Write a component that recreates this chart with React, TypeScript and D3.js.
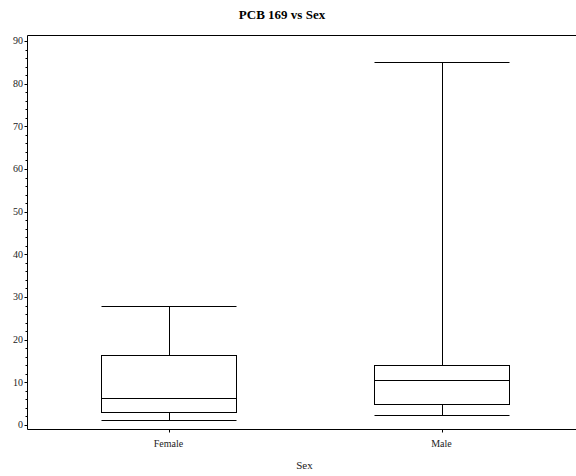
import React from "react";
import * as d3 from "d3";

const categories = ["Female", "Male"];
const whiskerLow = [1.1, 2.3];
const q1 = [3.0, 5.0];
const median = [6.4, 10.5];
const q3 = [16.4, 14.1];
const whiskerHigh = [27.9, 85.1];
const yTicks = [0, 10, 20, 30, 40, 50, 60, 70, 80, 90];
const title = "PCB 169 vs Sex";
const xLabel = "Sex";

const W = 576, H = 476;
const m = { left: 27, right: 0, top: 35, bottom: 47 };

export default function App() {
  const x = d3.scaleBand<string>().domain(categories).range([32, 578]).paddingInner(0).paddingOuter(0);
  const y = d3.scaleLinear().domain([-0.94, 91.4]).range([H - m.bottom, m.top]);
  const minor = d3.range(0, 92, 2).filter((v) => v % 10 !== 0);
  const bw = x.bandwidth() * 0.496;
  const font = "'Liberation Serif', 'Times New Roman', serif";
  const px = (v: number) => Math.round(v) + 0.5;
  const bottomY = px(H - m.bottom);
  return (
    <svg width={W} height={H} style={{ position: "absolute", left: 0, top: 0, background: "#fff" }}>
      <text x={282} y={19} textAnchor="middle" fontFamily={font} fontWeight="bold" fontSize={13}>{title}</text>
      <line x1={px(m.left)} x2={W} y1={px(m.top)} y2={px(m.top)} stroke="#000" />
      <line x1={px(m.left)} x2={W} y1={bottomY} y2={bottomY} stroke="#000" />
      <line x1={px(m.left)} x2={px(m.left)} y1={px(m.top)} y2={bottomY} stroke="#000" />
      {yTicks.map((t) => (
        <g key={t}>
          <line x1={px(m.left) - 3} x2={px(m.left)} y1={px(y(t))} y2={px(y(t))} stroke="#000" />
          <text x={m.left - 4} y={y(t) + 3.5} textAnchor="end" fontFamily={font} fontSize={10} fill="#222">{t}</text>
        </g>
      ))}
      {minor.map((t) => (
        <line key={"m" + t} x1={px(m.left) - 2} x2={px(m.left)} y1={px(y(t))} y2={px(y(t))} stroke="#000" />
      ))}
      {categories.map((c, i) => {
        const cx = x(c)! + x.bandwidth() / 2;
        const l = cx - bw / 2, r = cx + bw / 2;
        return (
          <g key={c} stroke="#000" fill="none">
            <line x1={px(cx)} x2={px(cx)} y1={bottomY} y2={bottomY + 3} />
            <text x={cx} y={447} textAnchor="middle" fontFamily={font} fontSize={10} fill="#222" stroke="none">{c}</text>
            <line x1={px(l)} x2={px(r)} y1={px(y(whiskerHigh[i]))} y2={px(y(whiskerHigh[i]))} />
            <line x1={px(l)} x2={px(r)} y1={px(y(whiskerLow[i]))} y2={px(y(whiskerLow[i]))} />
            <line x1={px(cx)} x2={px(cx)} y1={px(y(whiskerHigh[i]))} y2={px(y(q3[i]))} />
            <line x1={px(cx)} x2={px(cx)} y1={px(y(q1[i]))} y2={px(y(whiskerLow[i]))} />
            <rect x={px(l)} y={px(y(q3[i]))} width={Math.round(r) - Math.round(l)} height={Math.round(y(q1[i])) - Math.round(y(q3[i]))} />
            <line x1={px(l)} x2={px(r)} y1={px(y(median[i]))} y2={px(y(median[i]))} />
          </g>
        );
      })}
      <text x={304.5} y={469} textAnchor="middle" fontFamily={font} fontSize={11} fill="#222">{xLabel}</text>
    </svg>
  );
}
